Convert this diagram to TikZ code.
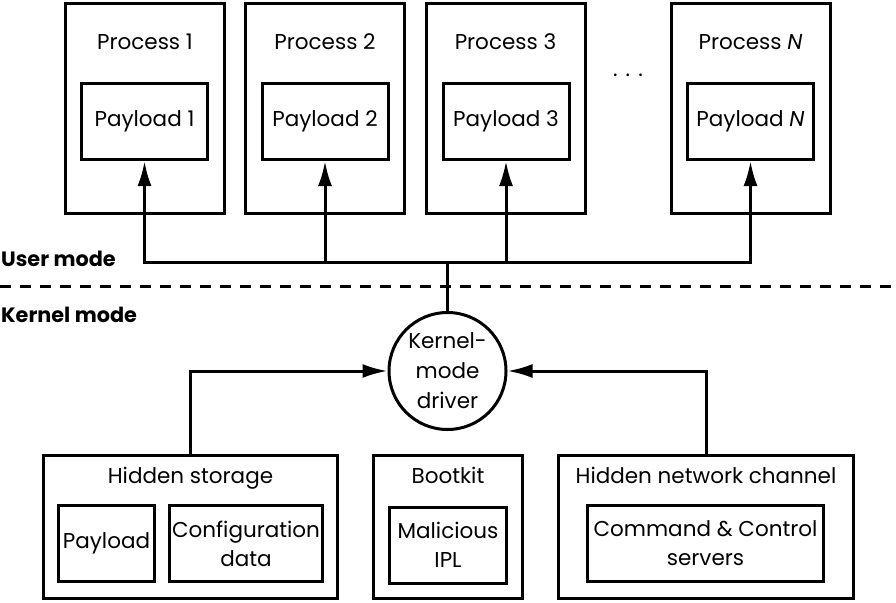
\documentclass[tikz,border=0pt]{standalone}
\usepackage{fontspec}
\setmainfont{Poppins}
\usetikzlibrary{arrows.meta}
\begin{document}
\begin{tikzpicture}[x=1pt,y=-1pt,
  box/.style={draw,line width=3pt,inner sep=0pt,rectangle},
  lbl/.style={font=\fontsize{21.5}{29}\selectfont,inner sep=0pt,align=center},
  modelbl/.style={font=\fontsize{20.8}{24}\selectfont\bfseries,inner sep=0pt,anchor=base west},
  conn/.style={line width=3pt},
  arr/.style={line width=3pt,-{Latex[length=25pt,width=14pt]}},
  drvc/.style={draw,circle,line width=3pt,minimum size=117pt,inner sep=0pt,align=center,font=\fontsize{21.5}{30}\selectfont}]
\useasboundingbox (0,0) rectangle (896,602);
% processes
\node[box,minimum width=159,minimum height=210] (pr1) at (145,108.5) {};
\node[box,minimum width=159,minimum height=210] (pr2) at (325,108.5) {};
\node[box,minimum width=159,minimum height=210] (pr3) at (505.5,108.5) {};
\node[box,minimum width=159,minimum height=210] (prN) at (750.5,108.5) {};
\node[lbl,anchor=base] (t1) at (145,50) {Process 1};
\node[lbl,anchor=base] (t2) at (325,50) {Process 2};
\node[lbl,anchor=base] (t3) at (505.5,50) {Process 3};
\node[lbl,anchor=base] (tN) at (750.5,50) {Process \textit{N}};
\node[box,minimum width=126,minimum height=76,lbl] (pa1) at (144.5,121.5) {Payload 1};
\node[box,minimum width=126,minimum height=76,lbl] (pa2) at (325,121.5) {Payload 2};
\node[box,minimum width=126,minimum height=76,lbl] (pa3) at (506,121.5) {Payload 3};
\node[box,minimum width=126,minimum height=76,lbl] (paN) at (750.5,121.5) {Payload \textit{N}};
\node[lbl,anchor=base] (dots) at (628,77) {.\hspace{8pt}.\hspace{8pt}.};
% modes
\node[modelbl] (um) at (1,266) {User mode};
\node[modelbl] (km) at (1,322) {Kernel mode};
\coordinate (dl) at (0,286);
\coordinate (dr) at (896,286);
\draw[line width=3pt,dash pattern=on 11pt off 9pt] (dl) -- (dr);
% driver
\node[drvc] (drv) at (447.5,371) {Kernel-\\mode\\driver};
\coordinate (j) at (447.5,262);
\draw[conn] (drv.north) -- (j);
\draw[arr] (j) -| (pa1.south);
\draw[arr] (j) -| (pa2.south);
\draw[arr] (j) -| (pa3.south);
\draw[arr] (j) -| (paN.south);
% bottom
\node[box,minimum width=294,minimum height=143] (hs) at (190.5,527) {};
\node[box,minimum width=149,minimum height=143] (bk) at (448,527) {};
\node[box,minimum width=295,minimum height=143] (hn) at (706,527) {};
\node[lbl,anchor=base] (ths) at (190.5,483) {Hidden storage};
\node[lbl,anchor=base] (tbk) at (448,483) {Bootkit};
\node[lbl,anchor=base] (thn) at (706,483) {Hidden network channel};
\node[box,lbl,minimum width=96,minimum height=76] (pl) at (106.5,543.5) {Payload};
\node[box,lbl,minimum width=153,minimum height=76] (cd) at (246,543.5) {Configuration\\data};
\node[box,lbl,minimum width=117,minimum height=76] (ipl) at (448,545) {Malicious\\IPL};
\node[box,lbl,minimum width=236,minimum height=76] (cc) at (705.5,543.5) {Command \& Control\\servers};
\draw[arr] (hs.north) |- (drv.west);
\draw[arr] (hn.north) |- (drv.east);
\end{tikzpicture}
\end{document}
